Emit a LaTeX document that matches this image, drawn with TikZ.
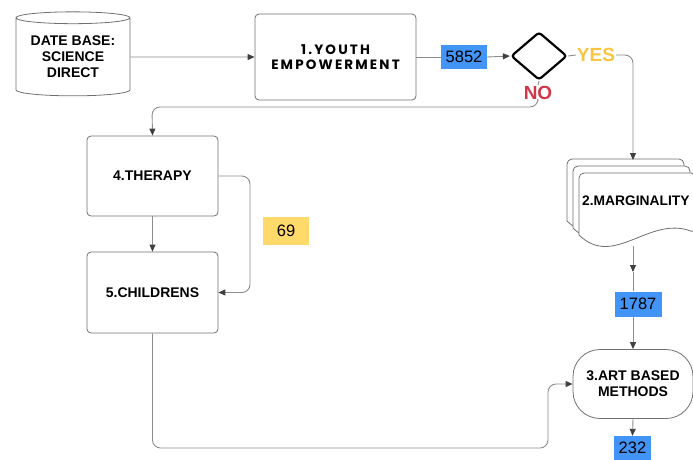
\documentclass[tikz,border=0pt]{standalone}
\usepackage{fontspec}
\setmainfont{Liberation Sans}
\newfontfamily\widefont[LetterSpace=16]{Poppins}
\usetikzlibrary{shapes.geometric,arrows.meta,positioning}
\definecolor{numblue}{HTML}{4394F7}
\definecolor{numyellow}{HTML}{FFDA6A}
\definecolor{yescol}{HTML}{F9C440}
\definecolor{nocol}{HTML}{D0384A}
\definecolor{linecol}{HTML}{8C8C8C}
\definecolor{tipcol}{HTML}{404040}
\begin{document}
\begin{tikzpicture}[x=1pt,y=-1pt,
    line/.style={draw=linecol,line width=0.9pt},
    arr/.style={line,-{Triangle[length=7pt,width=6pt,color=tipcol]}},
    box/.style={draw=linecol!80!black,line width=0.8pt,rounded corners=4pt,
        minimum width=131pt,minimum height=80pt,align=center,
        font=\bfseries\fontsize{14}{16}\selectfont},
    num/.style={minimum height=24pt,inner sep=0pt,font=\fontsize{16.5}{18}\selectfont}]
    \useasboundingbox (0,0) rectangle (693,459);
    % stacked pages
    \foreach \dx/\dy in {567/159,573/166,579/173}
        \filldraw[fill=white,draw=linecol!80!black,line width=0.8pt,rounded corners=5pt]
            (\dx,\dy+62) -- (\dx,\dy) -- (\dx+117,\dy) -- (\dx+117,\dy+60)
            [sharp corners] .. controls (\dx+70,\dy+42) and (\dx+35,\dy+96) .. (\dx,\dy+62) -- cycle;
    \node[anchor=west,font=\bfseries\fontsize{13.8}{16}\selectfont,inner sep=0pt] (marg) at (582,201) {2.MARGINALITY};
    \coordinate (margtop) at (633,160);
    \coordinate (margbot) at (633,246);
    \coordinate (m1) at (633,272);

    \node[cylinder,shape border rotate=90,aspect=0.14,draw=linecol!80!black,line width=0.8pt,
        minimum width=114pt,minimum height=84pt,inner sep=0pt,align=center,
        font=\bfseries\fontsize{14}{16}\selectfont] (db) at (73,57) {DATE BASE:\\SCIENCE\\DIRECT};
    \node[box,minimum width=161pt,minimum height=86pt,font=\widefont\bfseries\fontsize{13.5}{15}\selectfont]
        (youth) at (335.5,57) {1.YOUTH\\EMPOWERMENT};
    \node[num,fill=numblue,minimum width=46pt] (n5852) at (464,57) {5852};
    \node[diamond,draw=black,line width=2.2pt,rounded corners=3pt,inner sep=0pt,
        minimum width=56pt,minimum height=48pt] (dec) at (539,56) {};
    \node[text=yescol,font=\bfseries\fontsize{19}{21}\selectfont,inner sep=1pt] (yes) at (596,55) {YES};
    \node[text=nocol,font=\bfseries\fontsize{19}{21}\selectfont,inner sep=1pt] (no) at (538,93) {NO};
    \coordinate (nobend) at (152,107);

    \node[box] (therapy) at (152.5,176) {4.THERAPY};
    \node[box,minimum height=81pt] (childrens) at (152.5,292.5) {5.CHILDRENS};
    \node[num,fill=numyellow,minimum width=46pt,minimum height=28pt] (n69) at (286,231) {69};
    \coordinate (loop) at (250,230);

    \node[num,fill=numblue,minimum width=47pt,minimum height=25pt] (n1787) at (638,304) {1787};
    \node[box,rounded corners=27pt,minimum width=120pt,minimum height=69pt] (art) at (633,384) {3.ART BASED\\METHODS};
    \node[num,fill=numblue,minimum width=37pt,minimum height=24pt] (n232) at (632.5,448) {232};
    \coordinate (bottombend) at (548,448);

    \draw[arr] (db.east) -- (youth.west);
    \draw[line] (youth.east) -- (n5852.west);
    \draw[arr] (n5852.east) -- (dec.west);
    \draw[line] (dec.east) -- (yes.west);
    \draw[arr,rounded corners=8pt] (yes.east) -| (margtop);
    \draw[line] (dec.south) -- (no.north);
    \draw[arr,rounded corners=8pt] (no.south) |- (nobend) -- (therapy.north);
    \draw[arr] (therapy.south) -- (childrens.north);
    \draw[arr,rounded corners=8pt] (therapy.east) -| (loop) |- (childrens.east);
    \draw[arr] (margbot) -- (m1);
    \draw[line] (m1) -- (m1 |- n1787.north);
    \draw[arr] (n1787.south -| art.north) -- (art.north);
    \draw[arr] (art.south) -- (n232.north);
    \draw[arr,rounded corners=8pt] (childrens.south) |- (bottombend) |- (art.west);
\end{tikzpicture}
\end{document}
